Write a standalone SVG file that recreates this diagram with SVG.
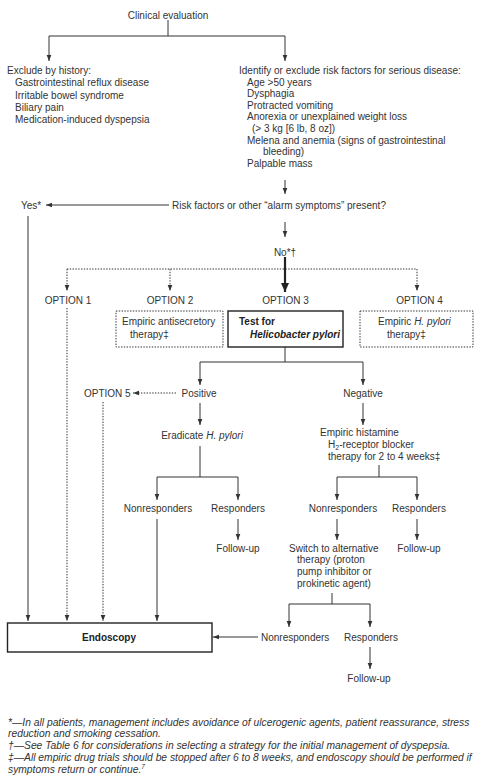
<svg xmlns="http://www.w3.org/2000/svg" width="500" height="784" viewBox="0 0 500 784">
<defs>
<style>
text{font-family:"Liberation Sans",Arial,sans-serif;font-size:10px;fill:#333}
.m{text-anchor:middle}
.b{font-weight:bold;font-size:10px;fill:#222}
.i{font-style:italic}
.ln{fill:none;stroke:#333;stroke-width:1}
.dt{fill:none;stroke:#333;stroke-width:1;stroke-dasharray:1.4 1.4}
.ar{marker-end:url(#ah)}
.bx{fill:#fff;stroke:#222;stroke-width:1.4}
.dbx{fill:#fff;stroke:#333;stroke-width:1;stroke-dasharray:1.4 1.4}
.fn{font-style:italic;font-size:10.3px}
</style>
<marker id="ah" viewBox="0 0 6 6" refX="6" refY="3" markerWidth="6" markerHeight="6" markerUnits="userSpaceOnUse" orient="auto">
<path d="M0,0.7 L6,3 L0,5.3 z" fill="#333"/>
</marker>
<marker id="ahb" viewBox="0 0 8 9" refX="9" refY="4.5" markerWidth="8" markerHeight="9" markerUnits="userSpaceOnUse" orient="auto">
<path d="M0,0.5 L9,4.5 L0,8.5 z" fill="#222"/>
</marker>
</defs>
<rect width="500" height="784" fill="#fff"/>

<g id="connectors">
<path class="ln" d="M168,20 V36 M49,36 H285"/>
<path class="ln ar" d="M49,36 V61"/>
<path class="ln ar" d="M285,36 V61"/>
<path class="ln ar" d="M285,180 V194"/>
<path class="ln ar" d="M169,205 H46"/>
<path class="ln ar" d="M28,216 V621"/>
<path class="ln ar" d="M285,222 V237"/>
<path class="dt" d="M67,269 H417"/>
<path class="dt ar" d="M67,269 V291"/>
<path class="dt ar" d="M170,269 V291"/>
<path class="dt ar" d="M417,269 V291"/>
<path d="M285,257 V292" fill="none" stroke="#222" stroke-width="2.2" marker-end="url(#ahb)"/>
<path class="dt ar" d="M67,308 V621"/>
<path class="ln" d="M285,347 V362 M200,362 H363"/>
<path class="ln ar" d="M200,362 V385"/>
<path class="ln ar" d="M363,362 V385"/>
<path class="dt ar" d="M176,393 H133"/>
<path class="dt ar" d="M103,402 V621"/>
<path class="ln ar" d="M200,403 V425"/>
<path class="ln ar" d="M363,403 V425"/>
<path class="ln" d="M200,446 V477 M157,477 H238"/>
<path class="ln ar" d="M157,477 V500"/>
<path class="ln ar" d="M238,477 V500"/>
<path class="ln" d="M379,465 V477 M337,477 H417"/>
<path class="ln ar" d="M337,477 V500"/>
<path class="ln ar" d="M417,477 V500"/>
<path class="ln ar" d="M157,519 V621"/>
<path class="ln ar" d="M238,519 V540"/>
<path class="ln ar" d="M337,519 V540"/>
<path class="ln ar" d="M417,519 V540"/>
<path class="ln" d="M332,593 V604 M289,604 H370"/>
<path class="ln ar" d="M289,604 V627"/>
<path class="ln ar" d="M370,604 V627"/>
<path class="ln ar" d="M258,637 H213"/>
<path class="ln ar" d="M370,647 V669"/>
</g>

<g id="clinical"><text class="m" x="168" y="18.5">Clinical evaluation</text></g>

<g id="exclude">
<text x="7" y="74">Exclude by history:</text>
<text x="15" y="86.3">Gastrointestinal reflux disease</text>
<text x="15" y="98.6">Irritable bowel syndrome</text>
<text x="15" y="110.9">Biliary pain</text>
<text x="15" y="123.2">Medication-induced dyspepsia</text>
</g>

<g id="riskfactors">
<text x="239" y="74">Identify or exclude risk factors for serious disease:</text>
<text x="247" y="85.6">Age &gt;50 years</text>
<text x="247" y="97.2">Dysphagia</text>
<text x="247" y="108.8">Protracted vomiting</text>
<text x="247" y="120.4">Anorexia or unexplained weight loss</text>
<text x="252" y="132">(&gt; 3 kg [6 lb, 8 oz])</text>
<text x="247" y="143.6">Melena and anemia (signs of gastrointestinal</text>
<text x="263" y="155.2">bleeding)</text>
<text x="247" y="166.8">Palpable mass</text>
</g>

<g id="alarm"><text x="172" y="208.5">Risk factors or other “alarm symptoms” present?</text></g>
<g id="yes"><text x="21" y="208.5">Yes*</text></g>
<g id="no"><text class="m" x="285" y="255.5">No*†</text></g>

<g id="option1"><text class="m" x="68" y="303.5">OPTION 1</text></g>
<g id="option2">
<text class="m" x="170" y="303.5">OPTION 2</text>
<rect class="dbx" x="116" y="311" width="107" height="36"/>
<text x="122" y="324.5">Empiric antisecretory</text>
<text x="130" y="337.5">therapy‡</text>
</g>
<g id="option3">
<text class="m" x="285.5" y="303.5">OPTION 3</text>
<rect class="bx" x="228" y="311" width="115" height="36"/>
<text class="b" x="239" y="324.5">Test for</text>
<text class="b i" x="250" y="337.5">Helicobacter pylori</text>
</g>
<g id="option4">
<text class="m" x="419.5" y="303.5">OPTION 4</text>
<rect class="dbx" x="360" y="311" width="113" height="36"/>
<text x="378" y="324.5">Empiric <tspan class="i">H. pylori</tspan></text>
<text x="387" y="337.5">therapy‡</text>
</g>

<g id="positive"><text class="m" x="199" y="396.5">Positive</text></g>
<g id="negative"><text class="m" x="363" y="396.5">Negative</text></g>
<g id="option5"><text x="84" y="396.5">OPTION 5</text></g>

<g id="eradicate"><text class="m" x="202" y="438.5">Eradicate <tspan class="i">H. pylori</tspan></text></g>
<g id="h2blocker">
<text x="320" y="435.5">Empiric histamine</text>
<text x="328" y="447.5">H<tspan font-size="7" dy="2">2</tspan><tspan dy="-2">-receptor blocker</tspan></text>
<text x="328" y="459.5">therapy for 2 to 4 weeks‡</text>
</g>

<g id="nonresp1"><text class="m" x="158" y="511.5">Nonresponders</text></g>
<g id="resp1"><text class="m" x="238" y="511.5">Responders</text></g>
<g id="nonresp2"><text class="m" x="343" y="511.5">Nonresponders</text></g>
<g id="resp2"><text class="m" x="419" y="511.5">Responders</text></g>

<g id="followup1"><text class="m" x="238" y="551.5">Follow-up</text></g>
<g id="followup2"><text class="m" x="419" y="551.5">Follow-up</text></g>

<g id="switch">
<text x="289" y="551.5">Switch to alternative</text>
<text x="297" y="563.2">therapy (proton</text>
<text x="297" y="574.9">pump inhibitor or</text>
<text x="297" y="586.6">prokinetic agent)</text>
</g>

<g id="endoscopy">
<rect class="bx" x="7.5" y="623" width="204.5" height="29"/>
<text class="b m" x="109" y="641">Endoscopy</text>
</g>
<g id="nonresp3"><text x="261" y="640.5">Nonresponders</text></g>
<g id="resp3"><text class="m" x="371" y="640.5">Responders</text></g>
<g id="followup3"><text class="m" x="369" y="681.5">Follow-up</text></g>

<g id="footnotes">
<text class="fn" x="8" y="725.5">*—In all patients, management  includes avoidance of ulcerogenic agents, patient reassurance, stress</text>
<text class="fn" x="8" y="737.2">reduction and smoking cessation.</text>
<text class="fn" x="8" y="749">†—See Table 6 for considerations in selecting a strategy for the initial management of dyspepsia.</text>
<text class="fn" x="8" y="760.7">‡—All empiric drug trials should be stopped after 6 to 8 weeks, and endoscopy should be performed if</text>
<text class="fn" x="8" y="772.5">symptoms return or continue.<tspan font-size="6.5" dy="-4">7</tspan></text>
</g>
</svg>
